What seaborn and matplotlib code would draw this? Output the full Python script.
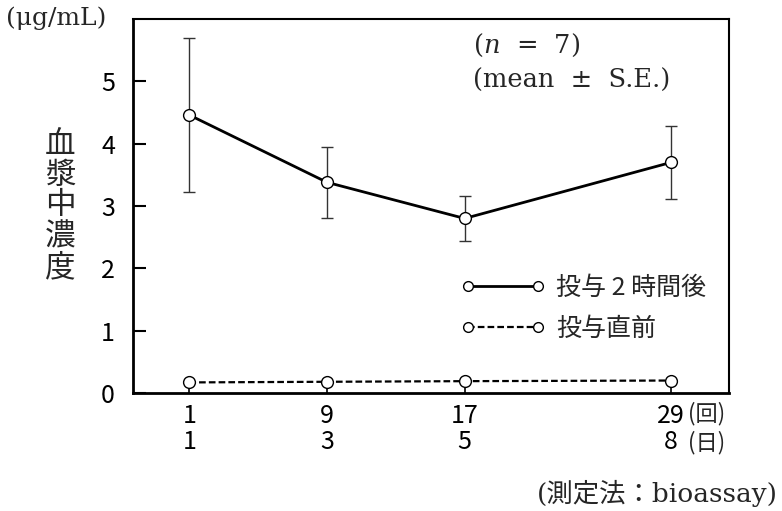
import matplotlib
matplotlib.use("Agg")
import matplotlib.pyplot as plt
import seaborn as sns
import numpy as np
import pandas as pd

# ---- data ----
doses = [1, 9, 17, 29]          # 投与回数
days = [1, 3, 5, 8]             # 日
after2h = [4.46, 3.38, 2.80, 3.70]
after2h_se = [1.24, 0.57, 0.36, 0.58]
before = [0.17, 0.18, 0.19, 0.20]
yticks = [0, 1, 2, 3, 4, 5]
series_labels = ["投与 2 時間後", "投与直前"]

sns.set_theme(style="ticks")
plt.rcParams["font.family"] = ["Liberation Sans Narrow", "Noto Sans CJK JP", "DejaVu Sans"]
plt.rcParams["mathtext.fontset"] = "dejavuserif"

NARROW = ["Liberation Sans Narrow", "Noto Sans CJK JP", "DejaVu Sans"]
SERIF = ["DejaVu Serif", "Noto Sans CJK JP"]
CJK = ["Noto Sans CJK JP", "DejaVu Sans"]

fig = plt.figure(figsize=(7.82, 5.11), dpi=100)
ax = fig.add_axes([133/782, 1-393/511, (729-133)/782, (393-19)/511])

df = pd.DataFrame({"x": doses * 2,
                   "y": after2h + before,
                   "s": [series_labels[0]] * 4 + [series_labels[1]] * 4})

ax.errorbar(doses, after2h, yerr=after2h_se, fmt="none", ecolor="#333333",
            elinewidth=1.0, capsize=4.5, capthick=1.0, zorder=1)

sns.lineplot(data=df[df.s == series_labels[0]], x="x", y="y", ax=ax,
             color="black", lw=2.0, marker="o", markersize=8.5,
             markerfacecolor="white", markeredgecolor="black", markeredgewidth=1.0,
             label=series_labels[0], zorder=3)
sns.lineplot(data=df[df.s == series_labels[1]], x="x", y="y", ax=ax,
             color="black", lw=1.6, ls=(0, (3, 1.4)), marker="o", markersize=8.5,
             markerfacecolor="white", markeredgecolor="black", markeredgewidth=1.0,
             label=series_labels[1], zorder=3)

ax.set_xlim(-2.27, 32.36)
ax.set_ylim(0, 6)
ax.set_yticks(yticks)
ax.set_yticklabels([str(v) for v in yticks], fontsize=18, family=NARROW)
ax.set_xticks(doses)
ax.set_xticklabels([f"{d}\n{dd}" for d, dd in zip(doses, days)], fontsize=18,
                   family=NARROW, linespacing=1.0)
ax.tick_params(axis="y", direction="in", length=9, width=1.5, pad=13, colors="black")
ax.tick_params(axis="x", direction="in", length=4, width=1.2, pad=7, colors="black")
ax.set_xlabel("")
ax.set_ylabel("")
for sp in ax.spines.values():
    sp.set_visible(True)
    sp.set_color("black")
    sp.set_linewidth(1.5)
ax.spines["left"].set_linewidth(2.0)
ax.spines["bottom"].set_linewidth(2.0)

# units next to last tick
ax.annotate("(回)", xy=(29, 0), xycoords=("data", "axes fraction"),
            xytext=(12, -15), textcoords="offset points", ha="left", va="center",
            fontsize=16, family=NARROW)
ax.annotate("(日)", xy=(29, 0), xycoords=("data", "axes fraction"),
            xytext=(12, -36), textcoords="offset points", ha="left", va="center",
            fontsize=16, family=NARROW)

leg = ax.legend(loc="center left", bbox_to_anchor=(0.55, 0.227), frameon=False,
                numpoints=2, handlelength=3.4, handletextpad=0.4, labelspacing=0.6,
                borderpad=0, borderaxespad=0, prop={"family": CJK, "size": 18})
for h in leg.legend_handles:
    h.set_markersize(7)

# annotations
fig.text(473/782, 1-45/511, "($n$  =  7)", fontsize=18.5, family=SERIF, va="center", ha="left")
fig.text(473/782, 1-80/511, "(mean  ±  S.E.)", fontsize=18.5, family=SERIF, va="center", ha="left")
fig.text(6/782, 1-18/511, "(μg/mL)", fontsize=18, family=SERIF, va="center", ha="left")
fig.text(60/782, 1-206/511, "血\n漿\n中\n濃\n度", fontsize=22, family=CJK,
         va="center", ha="center", linespacing=1.0)
fig.text(778/782, 1-493/511, "(測定法：bioassay)", fontsize=19, family=SERIF,
         va="center", ha="right")

fig.savefig("out.png", dpi=100)
